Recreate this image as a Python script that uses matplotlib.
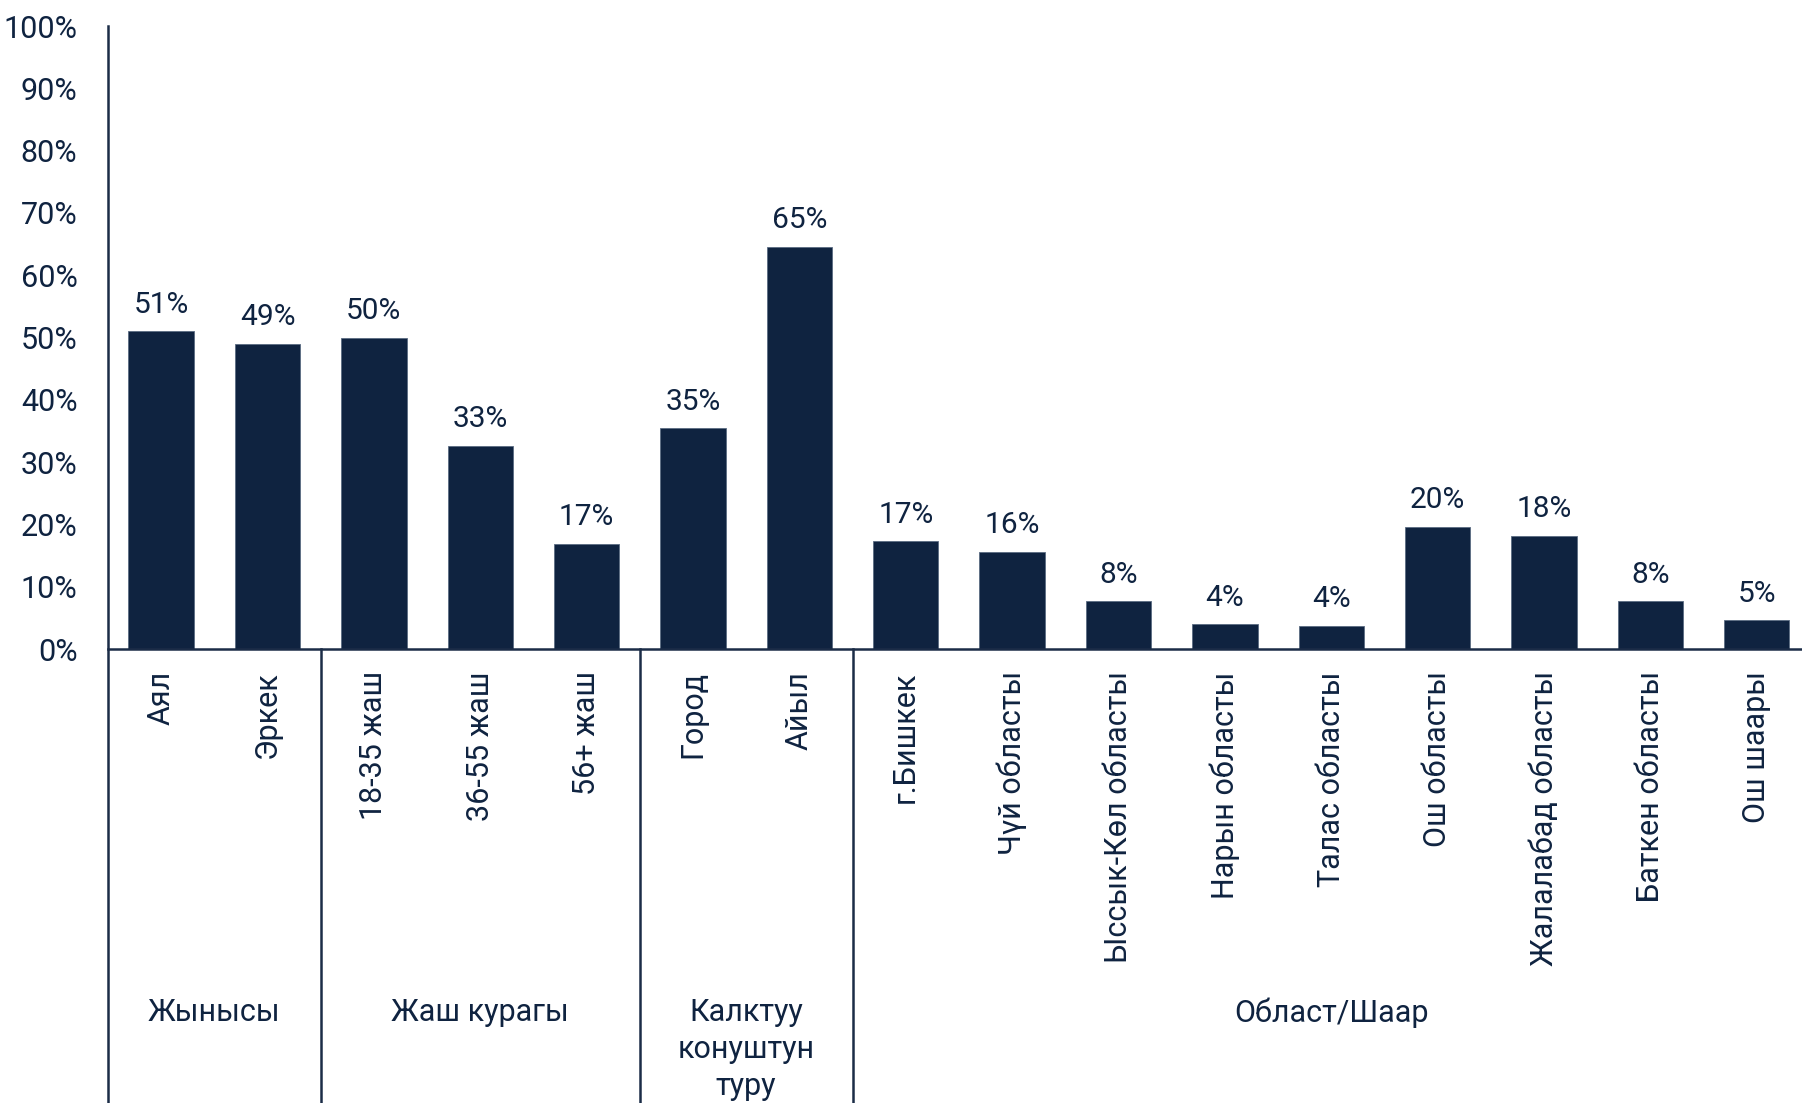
import matplotlib
matplotlib.use("Agg")
import matplotlib.pyplot as plt

plt.rcParams['font.family'] = ['Roboto', 'DejaVu Sans']

categories = ["Аял", "Эркек", "18-35 жаш", "36-55 жаш", "56+ жаш", "Город", "Айыл",
              "г.Бишкек", "Чүй областы", "Ыссык-Көл областы", "Нарын областы",
              "Талас областы", "Ош областы", "Жалалабад областы", "Баткен областы",
              "Ош шаары"]
values = [51.0, 49.0, 50.0, 32.6, 16.9, 35.4, 64.6, 17.3, 15.6, 7.7, 4.0, 3.7,
          19.6, 18.2, 7.7, 4.6]
groups = ["Жынысы", "Жаш курагы", "Калктуу\nконуштун\nтуру", "Област/Шаар"]
group_sizes = [2, 3, 2, 9]
yticks = [0, 10, 20, 30, 40, 50, 60, 70, 80, 90, 100]

navy = "#0f2340"
line_col = "#1b2c47"

fig = plt.figure(figsize=(18.02, 11.03), dpi=100)
ax = fig.add_axes([0.0599, 0.4116, 0.9445, 0.5648])

x = list(range(len(categories)))
ax.bar(x, values, width=0.615, color=navy, edgecolor="#5a6b82", linewidth=0.6)

for xi, v in zip(x, values):
    ax.annotate(f"{v:.0f}%", (xi, v), xytext=(0, 9), textcoords="offset points",
                ha="center", va="bottom", fontsize=21.5, color=navy)

ax.set_xlim(-0.5, len(categories) - 0.5)
ax.set_ylim(0, 100)
ax.set_yticks(yticks)
ax.set_yticklabels([f"{t}%" for t in yticks], fontsize=22, color=navy)
ax.tick_params(axis="y", length=0, pad=22)
ax.set_xticks(x)
ax.set_xticklabels(categories, rotation=90, fontsize=22, color=navy,
                   va="top", ha="center")
ax.tick_params(axis="x", length=0, pad=16)

for s in ax.spines.values():
    s.set_visible(False)

trans = ax.get_xaxis_transform()
bottom = -0.75
# baseline
ax.plot([-0.5, len(categories) - 0.5], [0, 0], transform=trans, color=line_col,
        linewidth=1.8, clip_on=False, zorder=3)
# left axis line, running down through the group area
ax.plot([-0.5, -0.5], [1.0, bottom], transform=trans, color=line_col,
        linewidth=1.8, clip_on=False)

# group separators and group names under the category labels
start = -0.5
for name, n in zip(groups, group_sizes):
    end = start + n
    if end < len(categories) - 0.5:
        ax.plot([end, end], [0, bottom], transform=trans, color=line_col,
                linewidth=1.8, clip_on=False)
    ax.text((start + end) / 2, -0.56, name, transform=trans, ha="center",
            va="top", fontsize=22, color=navy, linespacing=1.35)
    start = end

fig.savefig("out.png", dpi=100)
